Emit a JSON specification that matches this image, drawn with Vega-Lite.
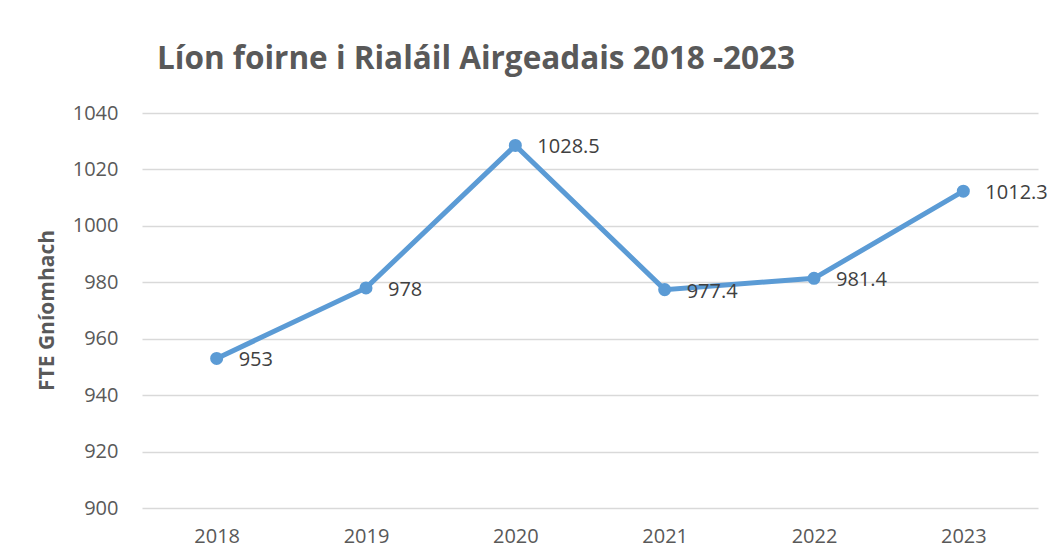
{
  "$schema": "https://vega.github.io/schema/vega-lite/v6.json",
  "autosize": {"type": "none"},
  "width": 896,
  "height": 395,
  "padding": {"left": 142, "top": 113, "right": 11, "bottom": 45},
  "background": "white",
  "title": {
    "text": "Líon foirne i Rialáil Airgeadais 2018 -2023",
    "anchor": "start",
    "dx": 121,
    "offset": 28,
    "font": "Open Sans",
    "fontSize": 31.5,
    "fontWeight": "bold",
    "color": "#595959"
  },
  "config": {
    "view": {"stroke": null},
    "font": "Open Sans"
  },
  "data": {
    "values": [
      {"year": "2018", "fte": 953},
      {"year": "2019", "fte": 978},
      {"year": "2020", "fte": 1028.5},
      {"year": "2021", "fte": 977.4},
      {"year": "2022", "fte": 981.4},
      {"year": "2023", "fte": 1012.3}
    ]
  },
  "encoding": {
    "x": {
      "field": "year",
      "type": "ordinal",
      "scale": {"type": "point", "padding": 0.5},
      "axis": {
        "title": null,
        "labelAngle": 0,
        "domain": false,
        "ticks": false,
        "grid": false,
        "labelFont": "Open Sans",
        "labelFontSize": 20,
        "labelColor": "#595959",
        "labelPadding": 18
      }
    },
    "y": {
      "field": "fte",
      "type": "quantitative",
      "scale": {"domain": [900, 1040], "nice": false, "zero": false},
      "axis": {
        "title": "FTE Gníomhach",
        "values": [900, 920, 940, 960, 980, 1000, 1020, 1040],
        "format": "d",
        "domain": false,
        "ticks": false,
        "grid": true,
        "gridColor": "#d9d9d9",
        "gridWidth": 1.5,
        "labelFont": "Open Sans",
        "labelFontSize": 20,
        "labelColor": "#595959",
        "labelPadding": 24,
        "titleFont": "Open Sans",
        "titleFontSize": 21,
        "titleFontWeight": "bold",
        "titleColor": "#595959",
        "titleX": -95,
        "titleY": 197,
        "titleAngle": -90,
        "titleAlign": "center",
        "titleBaseline": "middle"
      }
    }
  },
  "layer": [
    {
      "mark": {"type": "line", "color": "#5b9bd5", "strokeWidth": 5, "point": {"filled": true, "size": 170, "color": "#5b9bd5"}}
    },
    {
      "mark": {"type": "text", "align": "left", "baseline": "middle", "dx": 22, "dy": 2, "font": "Open Sans", "fontSize": 20, "color": "#404040"},
      "encoding": {"text": {"field": "fte", "type": "quantitative"}}
    }
  ]
}
